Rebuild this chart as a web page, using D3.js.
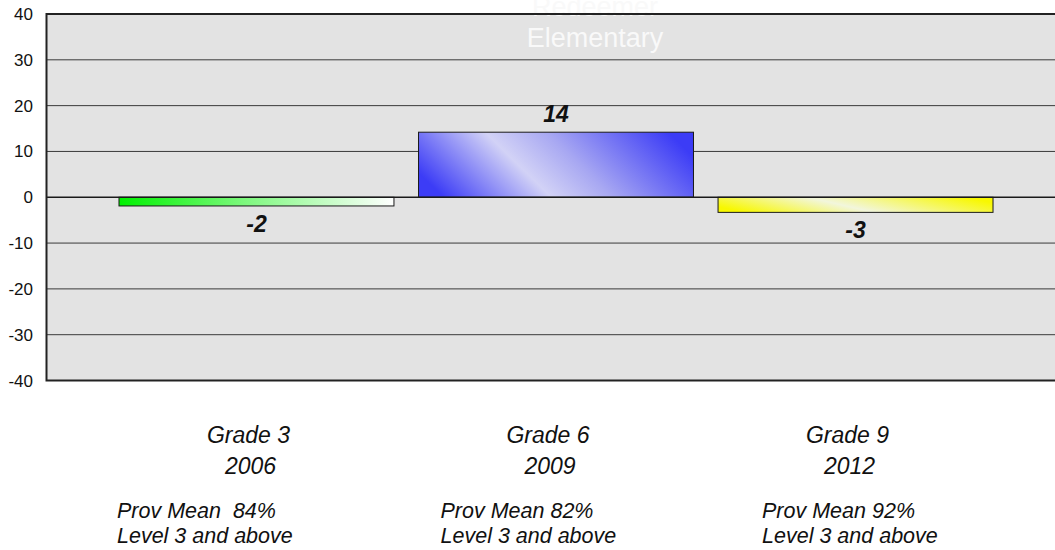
<!DOCTYPE html>
<html>
<head>
<meta charset="utf-8">
<script src="https://cdn.jsdelivr.net/npm/d3@7"></script>
<style>
  body { margin: 0; background: #fff; }
  text { font-family: Arial, 'Liberation Sans', sans-serif; }
</style>
</head>
<body>
<div id="chart"></div>
<script>
// data
let grades = ['Grade 3', 'Grade 6', 'Grade 9'];
let years = ['2006', '2009', '2012'];
let diffs = [-1.9, 14.2, -3.3];
let provNotes = ['Prov Mean  84%', 'Prov Mean 82%', 'Prov Mean 92%'];
let levelNote = 'Level 3 and above';
let yTicks = [40, 30, 20, 10, 0, -10, -20, -30, -40];
let titleLines = ['Redeemer', 'Elementary'];

let width = 1055, height = 550;
let plot = { left: 46.5, right: 1065.5, top: 14, bottom: 380.5 };

let svg = d3.select('#chart')
  .append('svg')
  .attr('width', width)
  .attr('height', height);

let defs = svg.append('defs');

let x = d3.scaleBand()
  .domain(grades)
  .range([plot.left, plot.right])
  .paddingInner(0.082)
  .paddingOuter(0.242);

let y = d3.scaleLinear()
  .domain([-40, 40])
  .range([plot.bottom, plot.top]);

// bar fills
let fills = [
  { id: 'gGreen', x1: 0, y1: 0, x2: 1, y2: 0,
    stops: [[0, '#00f000'], [0.45, '#7cf87c'], [1, '#ffffff']] },
  { id: 'gBlue', x1: 0, y1: 0.62, x2: 1, y2: 0.38,
    stops: [[0, '#3c3cf6'], [0.37, '#d2d2f6'], [0.58, '#a8a8f2'], [1, '#3c3cf6']] },
  { id: 'gYellow', x1: 0, y1: 0.62, x2: 1, y2: 0.38,
    stops: [[0, '#f8f800'], [0.45, '#f2f6dc'], [1, '#f8f800']] }
];

fills.forEach((f) => {
  let g = defs.append('linearGradient')
    .attr('id', f.id)
    .attr('x1', f.x1).attr('y1', f.y1)
    .attr('x2', f.x2).attr('y2', f.y2);
  f.stops.forEach((s) => {
    g.append('stop').attr('offset', s[0]).attr('stop-color', s[1]);
  });
});

// plot background
svg.append('rect')
  .attr('x', plot.left)
  .attr('y', plot.top)
  .attr('width', plot.right - plot.left)
  .attr('height', plot.bottom - plot.top)
  .style('fill', '#e3e3e3');

// grid lines
svg.append('g')
  .selectAll('line')
  .data(yTicks.filter((d) => d !== 40 && d !== -40 && d !== 0))
  .enter()
  .append('line')
  .attr('x1', plot.left)
  .attr('x2', plot.right)
  .attr('y1', (d) => y(d))
  .attr('y2', (d) => y(d))
  .style('stroke', '#3a3a3a')
  .style('stroke-width', 1);

// title (white, behind the bars; first line runs off the top as in the source)
svg.append('g')
  .selectAll('text')
  .data(titleLines)
  .enter()
  .append('text')
  .text((d) => d)
  .attr('x', 595)
  .attr('y', (d, i) => 16 + i * 30.5)
  .attr('text-anchor', 'middle')
  .style('font-size', '27px')
  .style('fill', '#f9f9f9');

// bars
let bar = svg.selectAll('.bar-group')
  .data(grades)
  .enter()
  .append('g')
  .attr('class', 'bar-group');

bar.append('rect')
  .attr('class', 'bar')
  .attr('x', (d) => x(d))
  .attr('y', (d, i) => y(Math.max(0, diffs[i])))
  .attr('width', x.bandwidth())
  .attr('height', (d, i) => Math.abs(y(diffs[i]) - y(0)))
  .style('fill', (d, i) => `url(#${fills[i].id})`)
  .style('stroke', '#1a1a1a')
  .style('stroke-width', 1);

bar.append('text')
  .text((d, i) => String(Math.round(diffs[i])))
  .attr('x', (d) => x(d) + x.bandwidth() / 2)
  .attr('y', (d, i) => diffs[i] >= 0 ? y(diffs[i]) - 10 : y(diffs[i]) + 26)
  .attr('text-anchor', 'middle')
  .style('font-size', '23px')
  .style('font-weight', 'bold')
  .style('font-style', 'italic')
  .style('fill', '#111');

// zero line
svg.append('line')
  .attr('x1', plot.left)
  .attr('x2', plot.right)
  .attr('y1', y(0))
  .attr('y2', y(0))
  .style('stroke', '#1a1a1a')
  .style('stroke-width', 1.5);

// frame: top, left, bottom
svg.append('path')
  .attr('d', `M${plot.right},${plot.top}H${plot.left}V${plot.bottom}H${plot.right}`)
  .style('fill', 'none')
  .style('stroke', '#222')
  .style('stroke-width', 2);

// y axis labels
svg.append('g')
  .selectAll('text')
  .data(yTicks)
  .enter()
  .append('text')
  .text((d) => d)
  .attr('x', 33)
  .attr('y', (d) => y(d) + 6)
  .attr('text-anchor', 'end')
  .style('font-size', '17px')
  .style('fill', '#111');

// category labels
let cat = svg.append('g')
  .selectAll('g')
  .data(grades)
  .enter()
  .append('g');

let noteShift = [-2, 22, 44];

cat.append('text')
  .text((d) => d)
  .attr('x', (d) => x(d) + x.bandwidth() / 2 - 8)
  .attr('y', 443)
  .attr('text-anchor', 'middle');

cat.append('text')
  .text((d, i) => years[i])
  .attr('x', (d) => x(d) + x.bandwidth() / 2 - 6)
  .attr('y', 474)
  .attr('text-anchor', 'middle');

cat.selectAll('text')
  .style('font-size', '23px')
  .style('font-style', 'italic')
  .style('fill', '#111');

cat.append('text')
  .text((d, i) => provNotes[i])
  .attr('x', (d, i) => x(d) + noteShift[i])
  .attr('y', 518)
  .style('white-space', 'pre');

cat.append('text')
  .text(levelNote)
  .attr('x', (d, i) => x(d) + noteShift[i])
  .attr('y', 543);

cat.selectAll('text:nth-child(n+3)')
  .style('font-size', '21.5px')
  .style('font-style', 'italic')
  .style('fill', '#111');
</script>
</body>
</html>
